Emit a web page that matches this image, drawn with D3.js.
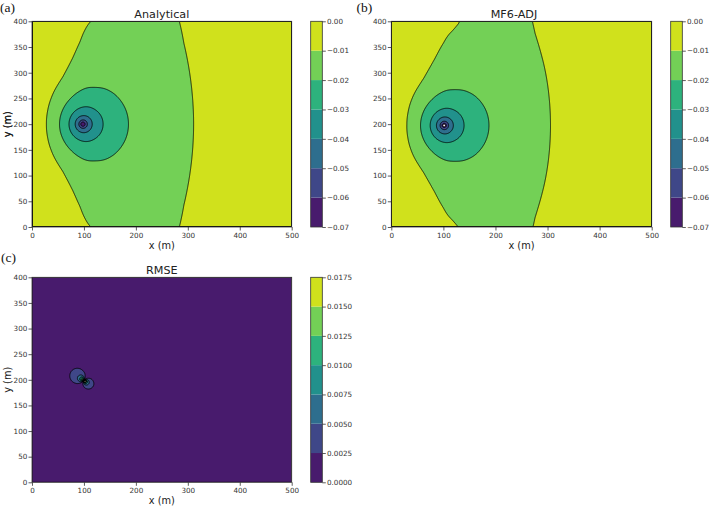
<!DOCTYPE html>
<html>
<head>
<meta charset="utf-8">
<script src="https://cdn.jsdelivr.net/npm/d3@7"></script>
<style>
  body { margin: 0; background: #fff; }
  svg { display: block; }
  text { font-family: "DejaVu Sans", sans-serif; fill: #222; }
  .letter { font-family: "Liberation Serif", "DejaVu Serif", serif; font-size: 13.5px; fill: #111; }
  .tick text { font-size: 7.2px; fill: #333; }
  .tick line { stroke: #333; stroke-width: 0.8; }
</style>
</head>
<body>
<div id="chart"></div>
<script>
'use strict';

// contour levels and tick labels
var headLevels = [-0.07, -0.06, -0.05, -0.04, -0.03, -0.02, -0.01, 0.00];
var headLabels = ['\u22120.07', '\u22120.06', '\u22120.05', '\u22120.04', '\u22120.03', '\u22120.02', '\u22120.01', '0.00'];
var rmseLevels = [0, 0.0025, 0.005, 0.0075, 0.01, 0.0125, 0.015, 0.0175];
var rmseLabels = ['0.0000', '0.0025', '0.0050', '0.0075', '0.0100', '0.0125', '0.0150', '0.0175'];
var xTicks = [0, 100, 200, 300, 400, 500];
var yTicks = [0, 50, 100, 150, 200, 250, 300, 350, 400];

// well locations (m)
var wellA = [98, 200];
var wellB = [101.5, 197.5];

// radial part of the field around the well (distance in m -> value)
var wellR     = [0, 1, 2, 4, 8, 16, 32, 64, 80, 100, 130, 160, 200, 250, 300, 400, 800];
var wellDrawA = [-0.0636, -0.0630, -0.0620, -0.0546, -0.0446, -0.0347, -0.0247, -0.0147, -0.0116, -0.0086, -0.0058, -0.0038, -0.0020, -0.0008, -0.0002, 0, 0];
var wellDrawB = [-0.0850, -0.0780, -0.0680, -0.0546, -0.0446, -0.0347, -0.0247, -0.0147, -0.0116, -0.0086, -0.0058, -0.0038, -0.0020, -0.0008, -0.0002, 0, 0];

// background along the middle row y = 200 (x in m -> value)
var baseX = [0, 14, 28, 40, 53, 71, 88, 105, 120, 138, 160, 187, 220, 250, 265, 273, 285, 300, 312, 330, 360, 400, 450, 500];
var baseA = [0.0070, 0.0053, 0.0034, 0.0016, -0.0002, -0.0027, -0.0048, -0.0064, -0.0071, -0.0082, -0.0090, -0.0097, -0.0100, -0.0100, -0.0099, -0.0097, -0.0095, -0.0089, -0.0083, -0.0074, -0.0062, -0.0050, -0.0040, -0.0035];
var baseB = [0.0070, 0.0053, 0.0034, 0.0017, 0.0001, -0.0023, -0.0044, -0.0060, -0.0067, -0.0078, -0.0087, -0.0094, -0.0098, -0.0098, -0.0096, -0.0093, -0.0089, -0.0084, -0.0078, -0.0070, -0.0059, -0.0048, -0.0039, -0.0035];

// change of the background towards the top and bottom edges
var edgeX    = [0, 20, 35, 50, 65, 80, 100, 120, 160, 200, 500];
var edgeAmpA = [-0.0065, -0.0045, -0.0025, -0.0008, -0.0006, -0.0009, -0.0013, -0.0012, -0.0008, 0, 0];
var edgeAmpB = [-0.0065, -0.0045, -0.0025, -0.0008, -0.0005, -0.0006, -0.0008, -0.0008, -0.0006, 0, 0];
var edgeDist  = [0, 25, 50, 75, 100, 125, 150, 175, 200];
var edgeShape = [0, 0.04, 0.15, 0.31, 0.5, 0.69, 0.85, 0.96, 1];

var nx = 500, ny = 400, yMid = 200;
var bandColors = d3.range(7).map(function(i){ return d3.interpolateViridis((i + 0.5) / 7); });

function radial(rs, vs){
  var s = d3.scaleLinear().domain(rs.map(Math.log1p)).range(vs).clamp(true);
  return function(r){ return s(Math.log1p(r)); };
}

// profile sampled at every metre, lightly smoothed
function smoothProfile(xs, vs){
  var lin = d3.scaleLinear().domain(xs).range(vs).clamp(true);
  var raw = d3.range(0, nx + 1).map(lin);
  var half = 8;
  return raw.map(function(v, i){
    return d3.mean(raw.slice(Math.max(0, i - half), Math.min(nx + 1, i + half + 1)));
  });
}

var edgeScale = d3.scaleLinear().domain(edgeDist).range(edgeShape).clamp(true);

function buildField(well, draw, base, edgeAmp){
  var W = radial(wellR, draw), B = smoothProfile(baseX, base), E = smoothProfile(edgeX, edgeAmp);
  var v = new Float64Array(nx * ny);
  for (var j = 0; j < ny; j++){
    var y = j + 0.5, g = edgeScale(Math.abs(y - yMid));
    for (var i = 0; i < nx; i++){
      var dx = i + 0.5 - well[0], dy = y - well[1];
      var b = (B[i] + B[i + 1]) / 2 + g * (E[i] + E[i + 1]) / 2;
      v[j * nx + i] = b + W(Math.sqrt(dx * dx + dy * dy));
    }
  }
  return v;
}

var fieldA = buildField(wellA, wellDrawA, baseA, edgeAmpA);
var fieldB = buildField(wellB, wellDrawB, baseB, edgeAmpB);
var fieldC = fieldA.map(function(v, i){ return Math.abs(v - fieldB[i]); });

var svg = d3.select('#chart').append('svg').attr('width', 709).attr('height', 508);

var panels = [
  {key: 'a', title: 'Analytical', values: fieldA, levels: headLevels, labels: headLabels,
   x0: 32, x1: 291.7, y0: 21.3, y1: 227, cb: 310.7, lx: 0, ly: 11.5, tx: 161.8},
  {key: 'b', title: 'MF6-ADJ', values: fieldB, levels: headLevels, labels: headLabels,
   x0: 391.3, x1: 651.7, y0: 21.3, y1: 227, cb: 670.7, lx: 356.5, ly: 11.5, tx: 514},
  {key: 'c', title: 'RMSE', values: fieldC, levels: rmseLevels, labels: rmseLabels,
   x0: 32, x1: 291.7, y0: 277.3, y1: 482.3, cb: 310.7, lx: 1, ly: 261.5, tx: 161.8}
];

panels.forEach(function(p){
  var xS = d3.scaleLinear().domain([0, 500]).range([p.x0, p.x1]);
  var yS = d3.scaleLinear().domain([0, 400]).range([p.y1, p.y0]);
  var path = d3.geoPath(d3.geoTransform({point: function(x, y){ this.stream.point(xS(x), yS(y)); }}));

  svg.append('clipPath').attr('id', 'clip-' + p.key).append('rect')
     .attr('x', p.x0).attr('y', p.y0).attr('width', p.x1 - p.x0).attr('height', p.y1 - p.y0);

  var contours = d3.contours().size([nx, ny]).smooth(true).thresholds(p.levels)(p.values);
  var g = svg.append('g').attr('clip-path', 'url(#clip-' + p.key + ')');

  // filled bands: each threshold paints values >= level, top level masks out-of-range values
  g.selectAll('path.band').data(contours).enter().append('path')
   .attr('class', 'band')
   .attr('d', path)
   .attr('fill', function(d, i){ return i < p.levels.length - 1 ? bandColors[i] : '#fff'; });

  g.selectAll('path.line').data(contours).enter().append('path')
   .attr('class', 'line')
   .attr('d', path)
   .attr('fill', 'none')
   .attr('stroke', '#000')
   .attr('stroke-width', 0.8);

  // frame
  svg.append('rect').attr('x', p.x0).attr('y', p.y0)
     .attr('width', p.x1 - p.x0).attr('height', p.y1 - p.y0)
     .attr('fill', 'none').attr('stroke', '#333').attr('stroke-width', 0.8);

  var xAxis = svg.append('g').attr('transform', 'translate(0,' + p.y1 + ')')
     .call(d3.axisBottom(xS).tickValues(xTicks).tickSize(3.5).tickPadding(2).tickFormat(d3.format('d')));
  var yAxis = svg.append('g').attr('transform', 'translate(' + p.x0 + ',0)')
     .call(d3.axisLeft(yS).tickValues(yTicks).tickSize(3.5).tickPadding(1.2).tickFormat(d3.format('d')));
  [xAxis, yAxis].forEach(function(a){
    a.select('.domain').remove();
    a.selectAll('text').attr('font-family', null).attr('font-size', null);
  });

  svg.append('text').attr('x', (p.x0 + p.x1) / 2).attr('y', p.y1 + 21.5)
     .attr('text-anchor', 'middle').attr('font-size', '9.8px').text('x (m)');
  svg.append('text')
     .attr('transform', 'translate(10.5,' + ((p.y0 + p.y1) / 2) + ') rotate(-90)')
     .attr('text-anchor', 'middle').attr('font-size', '9.8px').text('y (m)');

  svg.append('text').attr('x', p.tx).attr('y', p.y0 - 3.8)
     .attr('text-anchor', 'middle').attr('font-size', '11.2px').text(p.title);
  svg.append('text').attr('class', 'letter').attr('x', p.lx).attr('y', p.ly).text('(' + p.key + ')');

  // colour bar
  var cbW = 11.6;
  var cS = d3.scaleLinear().domain([p.levels[0], p.levels[p.levels.length - 1]]).range([p.y1, p.y0]);
  svg.append('g').selectAll('rect').data(d3.range(p.levels.length - 1)).enter().append('rect')
     .attr('x', p.cb).attr('width', cbW)
     .attr('y', function(i){ return cS(p.levels[i + 1]); })
     .attr('height', function(i){ return cS(p.levels[i]) - cS(p.levels[i + 1]); })
     .attr('fill', function(i){ return bandColors[i]; });
  svg.append('rect').attr('x', p.cb).attr('y', p.y0).attr('width', cbW).attr('height', p.y1 - p.y0)
     .attr('fill', 'none').attr('stroke', '#333').attr('stroke-width', 0.8);
  var cAxis = svg.append('g').attr('transform', 'translate(' + (p.cb + cbW) + ',0)')
     .call(d3.axisRight(cS).tickValues(p.levels).tickSize(3.5).tickPadding(1.2)
       .tickFormat(function(d, i){ return p.labels[i]; }));
  cAxis.select('.domain').remove();
  cAxis.selectAll('text').attr('font-family', null).attr('font-size', null);
});
</script>
</body>
</html>
